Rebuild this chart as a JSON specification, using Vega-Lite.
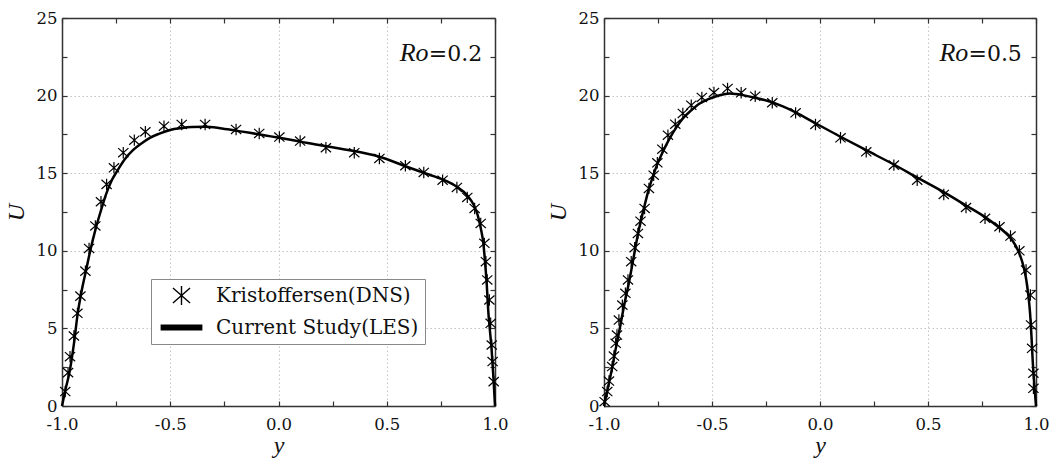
{
  "$schema": "https://vega.github.io/schema/vega-lite/v6.json",
  "background": "white",
  "padding": {"left": 4, "top": 10, "right": 5, "bottom": 0},
  "datasets": {
    "les02": [
      {"pos": -1.0, "U": 0}, {"pos": -0.985, "U": 1.0}, {"pos": -0.965, "U": 2.2}, {"pos": -0.945, "U": 4.0},
      {"pos": -0.928, "U": 5.9}, {"pos": -0.908, "U": 7.5}, {"pos": -0.888, "U": 8.8}, {"pos": -0.868, "U": 10.1},
      {"pos": -0.845, "U": 11.4}, {"pos": -0.82, "U": 12.6}, {"pos": -0.795, "U": 13.7}, {"pos": -0.77, "U": 14.55},
      {"pos": -0.747, "U": 15.1}, {"pos": -0.71, "U": 15.9}, {"pos": -0.671, "U": 16.5}, {"pos": -0.63, "U": 16.95},
      {"pos": -0.594, "U": 17.28}, {"pos": -0.55, "U": 17.55}, {"pos": -0.501, "U": 17.78}, {"pos": -0.45, "U": 17.9},
      {"pos": -0.4, "U": 17.97}, {"pos": -0.339, "U": 17.99}, {"pos": -0.27, "U": 17.9}, {"pos": -0.196, "U": 17.74},
      {"pos": -0.132, "U": 17.6}, {"pos": -0.06, "U": 17.43}, {"pos": 0.004, "U": 17.28}, {"pos": 0.095, "U": 17.05},
      {"pos": 0.2, "U": 16.78}, {"pos": 0.3, "U": 16.55}, {"pos": 0.35, "U": 16.43}, {"pos": 0.466, "U": 16.06},
      {"pos": 0.586, "U": 15.45}, {"pos": 0.68, "U": 14.98}, {"pos": 0.758, "U": 14.6}, {"pos": 0.824, "U": 14.13},
      {"pos": 0.87, "U": 13.6}, {"pos": 0.9, "U": 13.0}, {"pos": 0.92, "U": 12.3}, {"pos": 0.935, "U": 11.4},
      {"pos": 0.946, "U": 10.5}, {"pos": 0.954, "U": 9.3}, {"pos": 0.962, "U": 7.8}, {"pos": 0.969, "U": 6.1},
      {"pos": 0.977, "U": 4.8}, {"pos": 0.985, "U": 3.5}, {"pos": 0.993, "U": 1.8}, {"pos": 1.0, "U": 0}
    ],
    "dns02": [
      {"pos": -0.985, "U": 0.93, "series": "Kristoffersen(DNS)"}, {"pos": -0.972, "U": 2.15, "series": "Kristoffersen(DNS)"},
      {"pos": -0.963, "U": 3.18, "series": "Kristoffersen(DNS)"}, {"pos": -0.945, "U": 4.51, "series": "Kristoffersen(DNS)"},
      {"pos": -0.929, "U": 5.97, "series": "Kristoffersen(DNS)"}, {"pos": -0.915, "U": 7.08, "series": "Kristoffersen(DNS)"},
      {"pos": -0.892, "U": 8.69, "series": "Kristoffersen(DNS)"}, {"pos": -0.875, "U": 10.15, "series": "Kristoffersen(DNS)"},
      {"pos": -0.846, "U": 11.6, "series": "Kristoffersen(DNS)"}, {"pos": -0.82, "U": 13.16, "series": "Kristoffersen(DNS)"},
      {"pos": -0.794, "U": 14.28, "series": "Kristoffersen(DNS)"}, {"pos": -0.76, "U": 15.35, "series": "Kristoffersen(DNS)"},
      {"pos": -0.717, "U": 16.32, "series": "Kristoffersen(DNS)"}, {"pos": -0.666, "U": 17.13, "series": "Kristoffersen(DNS)"},
      {"pos": -0.615, "U": 17.67, "series": "Kristoffersen(DNS)"}, {"pos": -0.529, "U": 18.03, "series": "Kristoffersen(DNS)"},
      {"pos": -0.447, "U": 18.14, "series": "Kristoffersen(DNS)"}, {"pos": -0.339, "U": 18.14, "series": "Kristoffersen(DNS)"},
      {"pos": -0.196, "U": 17.82, "series": "Kristoffersen(DNS)"}, {"pos": -0.089, "U": 17.56, "series": "Kristoffersen(DNS)"},
      {"pos": 0.004, "U": 17.33, "series": "Kristoffersen(DNS)"}, {"pos": 0.1, "U": 17.07, "series": "Kristoffersen(DNS)"},
      {"pos": 0.219, "U": 16.64, "series": "Kristoffersen(DNS)"}, {"pos": 0.35, "U": 16.32, "series": "Kristoffersen(DNS)"},
      {"pos": 0.466, "U": 15.95, "series": "Kristoffersen(DNS)"}, {"pos": 0.586, "U": 15.48, "series": "Kristoffersen(DNS)"},
      {"pos": 0.671, "U": 15.05, "series": "Kristoffersen(DNS)"}, {"pos": 0.758, "U": 14.55, "series": "Kristoffersen(DNS)"},
      {"pos": 0.824, "U": 14.08, "series": "Kristoffersen(DNS)"}, {"pos": 0.872, "U": 13.44, "series": "Kristoffersen(DNS)"},
      {"pos": 0.906, "U": 12.73, "series": "Kristoffersen(DNS)"}, {"pos": 0.934, "U": 11.76, "series": "Kristoffersen(DNS)"},
      {"pos": 0.951, "U": 10.48, "series": "Kristoffersen(DNS)"}, {"pos": 0.958, "U": 9.3, "series": "Kristoffersen(DNS)"},
      {"pos": 0.964, "U": 8.12, "series": "Kristoffersen(DNS)"}, {"pos": 0.974, "U": 6.83, "series": "Kristoffersen(DNS)"},
      {"pos": 0.98, "U": 5.33, "series": "Kristoffersen(DNS)"}, {"pos": 0.985, "U": 3.93, "series": "Kristoffersen(DNS)"},
      {"pos": 0.989, "U": 2.86, "series": "Kristoffersen(DNS)"}, {"pos": 0.994, "U": 1.57, "series": "Kristoffersen(DNS)"}
    ],
    "les05": [
      {"pos": -1.0, "U": 0}, {"pos": -0.983, "U": 1.1}, {"pos": -0.966, "U": 2.2}, {"pos": -0.947, "U": 3.6},
      {"pos": -0.927, "U": 5.0}, {"pos": -0.905, "U": 6.6}, {"pos": -0.881, "U": 8.2}, {"pos": -0.86, "U": 9.8},
      {"pos": -0.838, "U": 11.4}, {"pos": -0.816, "U": 12.7}, {"pos": -0.796, "U": 13.8}, {"pos": -0.776, "U": 14.7},
      {"pos": -0.758, "U": 15.41}, {"pos": -0.727, "U": 16.4}, {"pos": -0.696, "U": 17.24}, {"pos": -0.665, "U": 17.95},
      {"pos": -0.635, "U": 18.53}, {"pos": -0.596, "U": 19.05}, {"pos": -0.557, "U": 19.49}, {"pos": -0.52, "U": 19.75},
      {"pos": -0.48, "U": 19.96}, {"pos": -0.45, "U": 20.07}, {"pos": -0.418, "U": 20.14}, {"pos": -0.39, "U": 20.11},
      {"pos": -0.357, "U": 20.03}, {"pos": -0.3, "U": 19.86}, {"pos": -0.233, "U": 19.62}, {"pos": -0.172, "U": 19.3},
      {"pos": -0.113, "U": 18.92}, {"pos": -0.021, "U": 18.22}, {"pos": 0.095, "U": 17.35}, {"pos": 0.214, "U": 16.48},
      {"pos": 0.342, "U": 15.56}, {"pos": 0.45, "U": 14.72}, {"pos": 0.573, "U": 13.78}, {"pos": 0.676, "U": 12.92},
      {"pos": 0.764, "U": 12.17}, {"pos": 0.831, "U": 11.48}, {"pos": 0.877, "U": 10.9}, {"pos": 0.905, "U": 10.35},
      {"pos": 0.926, "U": 9.72}, {"pos": 0.942, "U": 9.0}, {"pos": 0.954, "U": 8.22}, {"pos": 0.964, "U": 7.2},
      {"pos": 0.972, "U": 6.08}, {"pos": 0.979, "U": 4.5}, {"pos": 0.985, "U": 2.86}, {"pos": 0.992, "U": 1.4},
      {"pos": 1.0, "U": 0}
    ],
    "dns05": [
      {"pos": -0.997, "U": 0.28, "series": "Kristoffersen(DNS)"}, {"pos": -0.985, "U": 0.93, "series": "Kristoffersen(DNS)"},
      {"pos": -0.977, "U": 1.61, "series": "Kristoffersen(DNS)"}, {"pos": -0.962, "U": 2.54, "series": "Kristoffersen(DNS)"},
      {"pos": -0.954, "U": 3.22, "series": "Kristoffersen(DNS)"}, {"pos": -0.946, "U": 4.04, "series": "Kristoffersen(DNS)"},
      {"pos": -0.94, "U": 4.57, "series": "Kristoffersen(DNS)"}, {"pos": -0.931, "U": 5.54, "series": "Kristoffersen(DNS)"},
      {"pos": -0.915, "U": 6.5, "series": "Kristoffersen(DNS)"}, {"pos": -0.901, "U": 7.26, "series": "Kristoffersen(DNS)"},
      {"pos": -0.889, "U": 8.12, "series": "Kristoffersen(DNS)"}, {"pos": -0.874, "U": 9.3, "series": "Kristoffersen(DNS)"},
      {"pos": -0.858, "U": 10.2, "series": "Kristoffersen(DNS)"}, {"pos": -0.843, "U": 11.12, "series": "Kristoffersen(DNS)"},
      {"pos": -0.831, "U": 11.91, "series": "Kristoffersen(DNS)"}, {"pos": -0.812, "U": 12.73, "series": "Kristoffersen(DNS)"},
      {"pos": -0.792, "U": 14.02, "series": "Kristoffersen(DNS)"}, {"pos": -0.77, "U": 14.87, "series": "Kristoffersen(DNS)"},
      {"pos": -0.753, "U": 15.67, "series": "Kristoffersen(DNS)"}, {"pos": -0.73, "U": 16.55, "series": "Kristoffersen(DNS)"},
      {"pos": -0.704, "U": 17.45, "series": "Kristoffersen(DNS)"}, {"pos": -0.67, "U": 18.16, "series": "Kristoffersen(DNS)"},
      {"pos": -0.635, "U": 18.85, "series": "Kristoffersen(DNS)"}, {"pos": -0.596, "U": 19.38, "series": "Kristoffersen(DNS)"},
      {"pos": -0.547, "U": 19.88, "series": "Kristoffersen(DNS)"}, {"pos": -0.491, "U": 20.2, "series": "Kristoffersen(DNS)"},
      {"pos": -0.428, "U": 20.46, "series": "Kristoffersen(DNS)"}, {"pos": -0.365, "U": 20.18, "series": "Kristoffersen(DNS)"},
      {"pos": -0.3, "U": 19.96, "series": "Kristoffersen(DNS)"}, {"pos": -0.221, "U": 19.54, "series": "Kristoffersen(DNS)"},
      {"pos": -0.113, "U": 18.89, "series": "Kristoffersen(DNS)"}, {"pos": -0.021, "U": 18.14, "series": "Kristoffersen(DNS)"},
      {"pos": 0.095, "U": 17.28, "series": "Kristoffersen(DNS)"}, {"pos": 0.214, "U": 16.38, "series": "Kristoffersen(DNS)"},
      {"pos": 0.342, "U": 15.52, "series": "Kristoffersen(DNS)"}, {"pos": 0.45, "U": 14.55, "series": "Kristoffersen(DNS)"},
      {"pos": 0.573, "U": 13.63, "series": "Kristoffersen(DNS)"}, {"pos": 0.676, "U": 12.79, "series": "Kristoffersen(DNS)"},
      {"pos": 0.764, "U": 12.09, "series": "Kristoffersen(DNS)"}, {"pos": 0.831, "U": 11.55, "series": "Kristoffersen(DNS)"},
      {"pos": 0.882, "U": 10.95, "series": "Kristoffersen(DNS)"}, {"pos": 0.923, "U": 10.0, "series": "Kristoffersen(DNS)"},
      {"pos": 0.954, "U": 8.76, "series": "Kristoffersen(DNS)"}, {"pos": 0.974, "U": 7.15, "series": "Kristoffersen(DNS)"},
      {"pos": 0.977, "U": 5.22, "series": "Kristoffersen(DNS)"}, {"pos": 0.982, "U": 3.72, "series": "Kristoffersen(DNS)"},
      {"pos": 0.988, "U": 2.11, "series": "Kristoffersen(DNS)"}, {"pos": 0.988, "U": 1.14, "series": "Kristoffersen(DNS)"}
    ]
  },
  "spacing": 37,
  "resolve": {"scale": {"shape": "independent"}, "legend": {"shape": "independent"}},
  "hconcat": [
    {
      "width": 433,
      "height": 388,
      "resolve": {"axis": {"x": "independent", "y": "independent"}},
      "layer": [
        {
          "data": {"name": "les02"},
          "mark": {"type": "line", "color": "black", "strokeWidth": 2.5, "interpolate": "monotone"},
          "encoding": {
            "x": {"field": "pos", "type": "quantitative", "scale": {"domain": [-1, 1], "nice": false, "zero": false},
              "axis": {"title": "y", "values": [-1, -0.75, -0.5, -0.25, 0, 0.25, 0.5, 0.75, 1],
                "labelExpr": "abs(datum.value*2-round(datum.value*2))<0.001 ? replace(format(datum.value,'.1f'),'\u2212','-') : ''",
                "grid": true,
                "gridOpacity": {"condition": {"test": "abs(datum.value) < 0.99 && abs(datum.value*2-round(datum.value*2))<0.001", "value": 1}, "value": 0}}},
            "y": {"field": "U", "type": "quantitative", "scale": {"domain": [0, 25], "nice": false},
              "axis": {"title": "U", "values": [0, 2.5, 5, 7.5, 10, 12.5, 15, 17.5, 20, 22.5, 25],
                "labelExpr": "datum.value % 5 == 0 ? datum.label : ''",
                "grid": true,
                "gridOpacity": {"condition": {"test": "datum.value % 5 == 0 && datum.value > 0 && datum.value < 25", "value": 1}, "value": 0}}}
          }
        },
        {
          "data": {"name": "dns02"},
          "mark": {"type": "point", "filled": false, "color": "#000", "opacity": 1, "strokeWidth": 1.2, "size": 130},
          "encoding": {
            "x": {"field": "pos", "type": "quantitative",
              "axis": {"orient": "top", "title": null, "labels": false, "grid": false, "values": [-1, -0.75, -0.5, -0.25, 0, 0.25, 0.5, 0.75, 1]}},
            "y": {"field": "U", "type": "quantitative",
              "axis": {"orient": "right", "title": null, "labels": false, "grid": false, "values": [0, 2.5, 5, 7.5, 10, 12.5, 15, 17.5, 20, 22.5, 25]}},
            "shape": {"field": "series", "type": "nominal",
              "scale": {"domain": ["Kristoffersen(DNS)", "Current Study(LES)"], "range": ["M0,-1L0,1M-0.9,-0.8L0.9,0.8M-0.9,0.8L0.9,-0.8", "M-2.2,-0.24L2.2,-0.24M-2.2,-0.16L2.2,-0.16M-2.2,-0.08L2.2,-0.08M-2.2,0L2.2,0M-2.2,0.08L2.2,0.08M-2.2,0.16L2.2,0.16M-2.2,0.24L2.2,0.24"]},
              "legend": {"title": null, "orient": "none", "legendX": 89, "legendY": 261, "fillColor": "white", "strokeColor": "#888",
                "padding": 6, "symbolSize": 361, "symbolOffset": 14, "labelOffset": 24, "rowPadding": 9,
                "labelFont": "DejaVu Serif", "labelFontSize": 20, "labelColor": "#111", "labelLimit": 400,
                "symbolStrokeColor": "#000", "symbolStrokeWidth": 1.4, "symbolOpacity": 1}}
          }
        },
        {
          "data": {"values": [{}]},
          "mark": {"type": "text", "text": "Ro", "font": "Liberation Serif", "fontSize": 26, "fontStyle": "italic", "align": "left", "baseline": "alphabetic", "color": "#111"},
          "encoding": {"x": {"datum": 0.56, "type": "quantitative", "axis": null}, "y": {"datum": 22.2, "type": "quantitative", "axis": null}}
        },
        {
          "data": {"values": [{}]},
          "mark": {"type": "text", "text": "=0.2", "font": "DejaVu Serif", "fontSize": 22, "align": "left", "baseline": "alphabetic", "dx": 29, "color": "#111"},
          "encoding": {"x": {"datum": 0.56, "type": "quantitative", "axis": null}, "y": {"datum": 22.2, "type": "quantitative", "axis": null}}
        }
      ]
    },
    {
      "width": 432,
      "height": 388,
      "resolve": {"axis": {"x": "independent", "y": "independent"}},
      "layer": [
        {
          "data": {"name": "les05"},
          "mark": {"type": "line", "color": "black", "strokeWidth": 2.5, "interpolate": "monotone"},
          "encoding": {
            "x": {"field": "pos", "type": "quantitative", "scale": {"domain": [-1, 1], "nice": false, "zero": false},
              "axis": {"title": "y", "values": [-1, -0.75, -0.5, -0.25, 0, 0.25, 0.5, 0.75, 1],
                "labelExpr": "abs(datum.value*2-round(datum.value*2))<0.001 ? replace(format(datum.value,'.1f'),'\u2212','-') : ''",
                "grid": true,
                "gridOpacity": {"condition": {"test": "abs(datum.value) < 0.99 && abs(datum.value*2-round(datum.value*2))<0.001", "value": 1}, "value": 0}}},
            "y": {"field": "U", "type": "quantitative", "scale": {"domain": [0, 25], "nice": false},
              "axis": {"title": "U", "values": [0, 2.5, 5, 7.5, 10, 12.5, 15, 17.5, 20, 22.5, 25],
                "labelExpr": "datum.value % 5 == 0 ? datum.label : ''",
                "grid": true,
                "gridOpacity": {"condition": {"test": "datum.value % 5 == 0 && datum.value > 0 && datum.value < 25", "value": 1}, "value": 0}}}
          }
        },
        {
          "data": {"name": "dns05"},
          "mark": {"type": "point", "filled": false, "color": "#000", "opacity": 1, "strokeWidth": 1.2, "size": 130},
          "encoding": {
            "x": {"field": "pos", "type": "quantitative",
              "axis": {"orient": "top", "title": null, "labels": false, "grid": false, "values": [-1, -0.75, -0.5, -0.25, 0, 0.25, 0.5, 0.75, 1]}},
            "y": {"field": "U", "type": "quantitative",
              "axis": {"orient": "right", "title": null, "labels": false, "grid": false, "values": [0, 2.5, 5, 7.5, 10, 12.5, 15, 17.5, 20, 22.5, 25]}},
            "shape": {"field": "series", "type": "nominal",
              "scale": {"domain": ["Kristoffersen(DNS)", "Current Study(LES)"], "range": ["M0,-1L0,1M-0.9,-0.8L0.9,0.8M-0.9,0.8L0.9,-0.8", "M-2.2,0L2.2,0"]},
              "legend": null}
          }
        },
        {
          "data": {"values": [{}]},
          "mark": {"type": "text", "text": "Ro", "font": "Liberation Serif", "fontSize": 26, "fontStyle": "italic", "align": "left", "baseline": "alphabetic", "color": "#111"},
          "encoding": {"x": {"datum": 0.553, "type": "quantitative", "axis": null}, "y": {"datum": 22.2, "type": "quantitative", "axis": null}}
        },
        {
          "data": {"values": [{}]},
          "mark": {"type": "text", "text": "=0.5", "font": "DejaVu Serif", "fontSize": 22, "align": "left", "baseline": "alphabetic", "dx": 29, "color": "#111"},
          "encoding": {"x": {"datum": 0.553, "type": "quantitative", "axis": null}, "y": {"datum": 22.2, "type": "quantitative", "axis": null}}
        }
      ]
    }
  ],
  "config": {
    "view": {"stroke": null},
    "axis": {
      "domainColor": "#333", "domainWidth": 1.5, "tickColor": "#333", "tickWidth": 1.2, "tickSize": -5,
      "labelFont": "DejaVu Serif", "labelFontSize": 16.5, "labelColor": "#111", "labelFlush": false, "labelOverlap": false,
      "titleFont": "Liberation Serif", "titleFontSize": 24, "titleFontStyle": "italic", "titleFontWeight": "normal", "titleColor": "#111",
      "gridColor": "#c4c4c4", "gridDash": [1.5, 2.5], "gridWidth": 1
    },
    "axisX": {"labelPadding": 15, "titlePadding": 1},
    "axisY": {"labelPadding": 10, "titlePadding": 8}
  }
}
